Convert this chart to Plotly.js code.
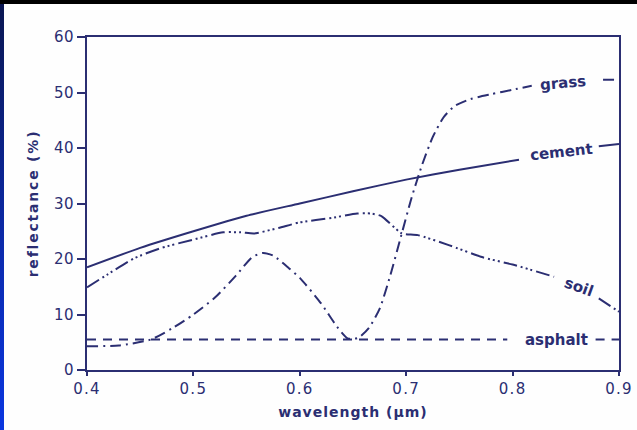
<!DOCTYPE html>
<html>
<head>
<meta charset="utf-8">
<script src="https://cdn.plot.ly/plotly-3.0.1.min.js"></script>
<style>
  html, body { margin: 0; padding: 0; width: 637px; height: 430px; overflow: hidden;
    background: linear-gradient(to bottom, #000000 0px, #000000 4px, transparent 4px),
                linear-gradient(to bottom, #0a1650 0%, #0b2bb0 60%, #0a36e0 100%); }
  #chart { position: absolute; left: 4px; top: 4px; width: 633px; height: 426px; }
  .xtitle { letter-spacing: 1px; }
  .ytitle { letter-spacing: 1.8px; }
  .xtick text { letter-spacing: 1.3px; }
  .ytick text { letter-spacing: 0.5px; }
</style>
</head>
<body>
<div id="chart"></div>
<script>
const ink = '#2b2e72';

const cementX = [0.40, 0.45, 0.50, 0.55, 0.60, 0.65, 0.70, 0.75, 0.806, null, 0.881, 0.90];
const cementY = [18.5, 22.0, 25.0, 27.8, 30.0, 32.2, 34.3, 36.1, 37.9, null, 40.3, 40.7];

const grassX = [0.40, 0.43, 0.46, 0.48, 0.50, 0.52, 0.54, 0.555, 0.565, 0.575, 0.59, 0.60, 0.62, 0.635, 0.645, 0.655, 0.665, 0.675, 0.685, 0.695, 0.705, 0.715, 0.725, 0.735, 0.745, 0.76, 0.78, 0.80, 0.818, null, 0.885, 0.90];
const grassY = [4.3, 4.4, 5.5, 7.5, 10.0, 13.0, 17.0, 20.3, 21.1, 20.6, 18.3, 16.6, 12.0, 7.8, 5.7, 5.8, 7.6, 11.0, 17.0, 24.0, 31.0, 37.0, 42.0, 45.5, 47.5, 48.8, 49.7, 50.5, 51.2, null, 52.3, 52.3];

const soilX = [0.40, 0.42, 0.444, 0.47, 0.50, 0.528, 0.545, 0.557, 0.58, 0.60, 0.63, 0.654, 0.667, 0.677, 0.687, 0.696, 0.711, 0.74, 0.772, 0.80, 0.839, null, 0.881, 0.90];
const soilY = [14.9, 17.3, 20.1, 22.0, 23.5, 24.8, 24.8, 24.6, 25.6, 26.6, 27.4, 28.2, 28.2, 27.7, 26.0, 24.6, 24.3, 22.5, 20.3, 19.0, 16.8, null, 12.9, 10.5];

const asphaltX = [0.40, 0.795, null, 0.878, 0.90];
const asphaltY = [5.5, 5.5, null, 5.5, 5.5];

const labelText = ['grass', 'cement', 'soil', 'asphalt'];
const labelX = [0.847, 0.846, 0.862, 0.841];
const labelY = [51.7, 39.2, 14.9, 5.4];
const labelAngle = [-5, -6, 20, 0];

const xTicks = [0.4, 0.5, 0.6, 0.7, 0.8, 0.9];
const yTicks = [0, 10, 20, 30, 40, 50, 60];

const traces = [
  {x: cementX, y: cementY, mode: 'lines', line: {color: ink, width: 2, shape: 'spline', smoothing: 0.6}, connectgaps: false},
  {x: grassX, y: grassY, mode: 'lines', line: {color: ink, width: 2, dash: '11px,5px,2px,5px', shape: 'spline', smoothing: 0.6}, connectgaps: false},
  {x: soilX, y: soilY, mode: 'lines', line: {color: ink, width: 2, dash: '14px,4px,2px,3px,2px,3px,2px,4px', shape: 'spline', smoothing: 0.6}, connectgaps: false},
  {x: asphaltX, y: asphaltY, mode: 'lines', line: {color: ink, width: 2, dash: '9px,7px'}, connectgaps: false}
];

const annotations = labelText.map((t, i) => ({
  x: labelX[i], y: labelY[i], xref: 'x', yref: 'y', text: t, showarrow: false,
  textangle: labelAngle[i], font: {family: 'DejaVu Sans', size: 15, color: ink, weight: 700, style: 'normal'}
}));

const tickFont = {family: 'DejaVu Sans', size: 15, color: ink};
const titleFont = {family: 'DejaVu Sans', size: 14, color: ink, weight: 700, style: 'normal'};

const layout = {
  width: 633, height: 426,
  margin: {l: 83, r: 18, t: 33, b: 60},
  paper_bgcolor: '#fefefe', plot_bgcolor: '#fefefe',
  showlegend: false,
  font: {family: 'DejaVu Sans', color: ink, size: 14},
  xaxis: {
    range: [0.4, 0.9], tickvals: xTicks, ticktext: xTicks.map(v => v.toFixed(1)),
    showgrid: false, zeroline: false, showline: true, mirror: true, linecolor: ink, linewidth: 2,
    ticks: 'outside', ticklen: 4, tickwidth: 2, tickcolor: ink,
    tickfont: tickFont,
    title: {text: 'wavelength (μm)', font: titleFont, standoff: 10}
  },
  yaxis: {
    range: [0, 60], tickvals: yTicks, ticktext: yTicks.map(String),
    showgrid: false, zeroline: false, showline: true, mirror: true, linecolor: ink, linewidth: 2,
    ticks: 'outside', ticklen: 8, tickwidth: 2, tickcolor: ink,
    tickfont: tickFont,
    title: {text: 'reflectance (%)', font: titleFont, standoff: 12}
  },
  annotations: annotations
};

Plotly.newPlot('chart', traces, layout, {displayModeBar: false, staticPlot: true});
</script>
</body>
</html>
